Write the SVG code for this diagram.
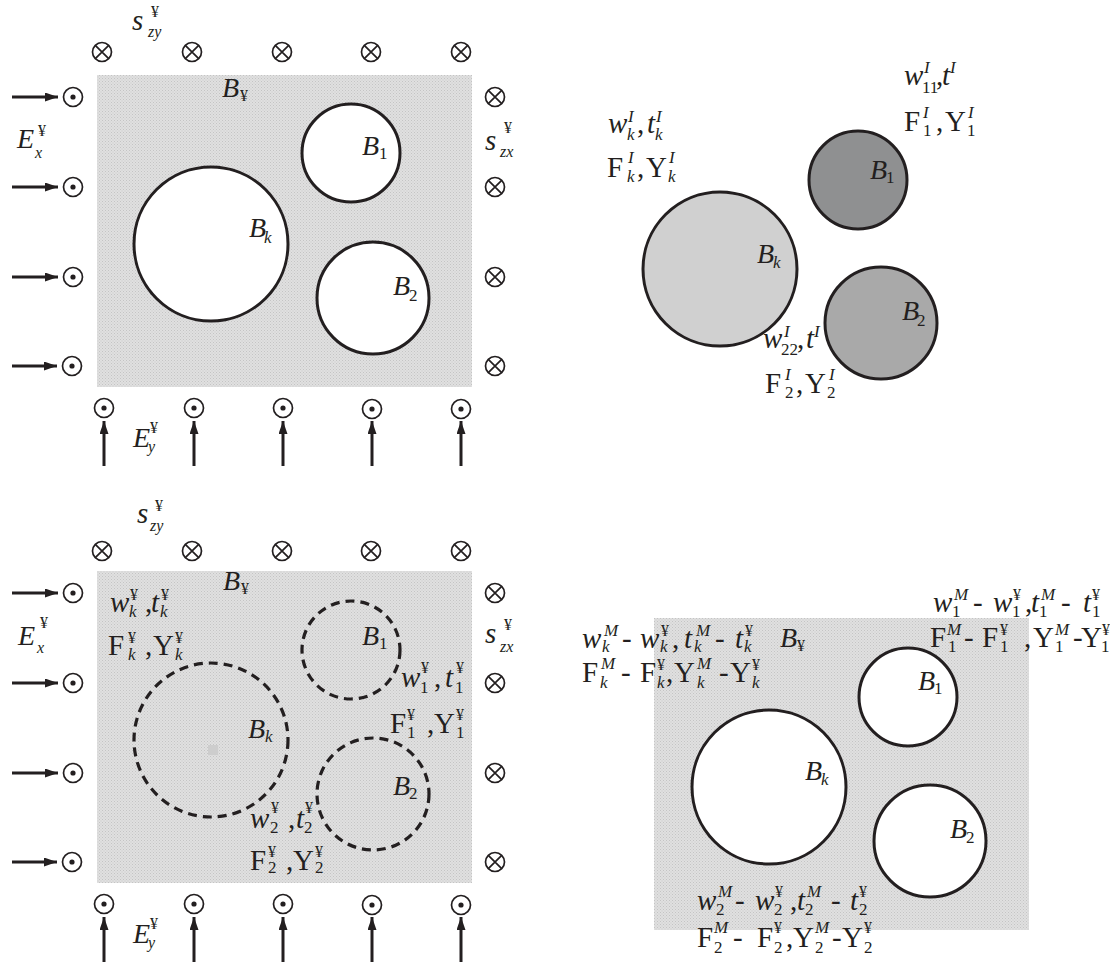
<svg xmlns="http://www.w3.org/2000/svg" width="1110" height="962" viewBox="0 0 1110 962">
<style>
text{font-family:"Liberation Serif","Times New Roman",serif;fill:#231f20}
.i{font-style:italic}
.b{font-size:29px}
.m{font-size:28px}
.s{font-size:17px}
.y{font-size:16px}
.c{fill:#fff;stroke:#231f20;stroke-width:3}
.d{fill:none;stroke:#231f20;stroke-width:3.2;stroke-dasharray:9 6}
.ar{stroke:#231f20;stroke-width:3;fill:none}
</style>
<defs>
<pattern id="dots" width="3" height="3" patternUnits="userSpaceOnUse">
<rect width="3" height="3" fill="#e0e0e0"/>
<rect x="0" y="0" width="1" height="1" fill="#c4c4c4"/>
<rect x="1.5" y="1.5" width="1" height="1" fill="#cacaca"/>
</pattern>
<marker id="ah" viewBox="0 0 13 9" refX="13" refY="4.5" markerWidth="13" markerHeight="9" markerUnits="userSpaceOnUse" orient="auto">
<path d="M0,0 L13,4.5 L0,9 Z" fill="#231f20"/>
</marker>
<g id="dot"><circle r="9.5" fill="none" stroke="#231f20" stroke-width="1.7"/><circle r="2.6" fill="#231f20"/></g>
<g id="crs"><circle r="9.5" fill="none" stroke="#231f20" stroke-width="1.7"/><path d="M-6.7,-6.7 L6.7,6.7 M-6.7,6.7 L6.7,-6.7" stroke="#231f20" stroke-width="1.7"/></g>
</defs>

<!-- ===== Top-left panel ===== -->
<g id="tl-matrix"><rect x="97" y="75" width="375" height="312" fill="url(#dots)"/></g>
<g id="tl-B1"><circle class="c" cx="351" cy="153" r="49"/></g>
<g id="tl-Bk"><circle class="c" cx="211" cy="244" r="77"/></g>
<g id="tl-B2"><circle class="c" cx="373" cy="298" r="56"/></g>
<g id="tl-symbols">
<use href="#crs" x="102" y="52"/><use href="#crs" x="192" y="52"/><use href="#crs" x="282" y="52"/><use href="#crs" x="371" y="52"/><use href="#crs" x="461" y="52"/>
<use href="#crs" x="495" y="97"/><use href="#crs" x="495" y="187"/><use href="#crs" x="495" y="277"/><use href="#crs" x="495" y="366"/>
<use href="#dot" x="73" y="97"/><use href="#dot" x="73" y="187"/><use href="#dot" x="73" y="277"/><use href="#dot" x="72" y="366"/>
<use href="#dot" x="104" y="408"/><use href="#dot" x="194" y="408"/><use href="#dot" x="283" y="408"/><use href="#dot" x="372" y="409"/><use href="#dot" x="461" y="409"/>
</g>
<g id="tl-labels">
<text><tspan class="i b" x="132" y="30">s</tspan><tspan class="y" x="151" y="17">¥</tspan><tspan class="i y" x="148" y="37">zy</tspan></text>
<text><tspan class="i m" x="222" y="97">B</tspan><tspan class="y" x="240" y="101">¥</tspan></text>
<text><tspan class="i m" x="17" y="148">E</tspan><tspan class="y" x="38" y="136">¥</tspan><tspan class="i y" x="35" y="158">x</tspan></text>
<text><tspan class="i b" x="485" y="150">s</tspan><tspan class="y" x="504" y="133">¥</tspan><tspan class="i y" x="500" y="157">zx</tspan></text>
<text><tspan class="i m" x="362" y="155">B</tspan><tspan class="s" x="379" y="159">1</tspan></text>
<text><tspan class="i m" x="249" y="237">B</tspan><tspan class="i s" x="264" y="243">k</tspan></text>
<text><tspan class="i m" x="393" y="295">B</tspan><tspan class="s" x="409" y="301">2</tspan></text>
<text><tspan class="i m" x="133" y="447">E</tspan><tspan class="y" x="150" y="433">¥</tspan><tspan class="i y" x="148" y="452">y</tspan></text>
</g>

<!-- ===== Top-right panel ===== -->
<g id="tr-Bk"><circle cx="720" cy="269" r="77" fill="#d0d0d0" stroke="#231f20" stroke-width="3"/></g>
<g id="tr-B1"><circle cx="858" cy="180" r="49" fill="#8f9091" stroke="#231f20" stroke-width="3"/></g>
<g id="tr-B2"><circle cx="881" cy="323" r="56" fill="#a9a9a9" stroke="#231f20" stroke-width="3"/></g>
<g id="tr-labels">
<text><tspan class="i b" x="608" y="133">w</tspan><tspan class="i s" x="628" y="122">I</tspan><tspan class="i s" x="627" y="140">k</tspan><tspan class="b" x="637" y="133">,</tspan><tspan class="i b" x="647" y="133">t</tspan><tspan class="i s" x="656" y="122">I</tspan><tspan class="i s" x="655" y="140">k</tspan></text>
<text><tspan class="b" x="607" y="177">F</tspan><tspan class="i s" x="628" y="163">I</tspan><tspan class="i s" x="627" y="182">k</tspan><tspan class="b" x="637" y="177">,</tspan><tspan class="b" x="646" y="177">Y</tspan><tspan class="i s" x="669" y="163">I</tspan><tspan class="i s" x="668" y="182">k</tspan></text>
<text><tspan class="i b" x="904" y="85">w</tspan><tspan class="i s" x="924" y="73">I</tspan><tspan class="s" x="922" y="93">11</tspan><tspan class="b" x="936" y="85">,</tspan><tspan class="i b" x="942" y="85">t</tspan><tspan class="i s" x="950" y="73">I</tspan></text>
<text><tspan class="b" x="904" y="131">F</tspan><tspan class="i s" x="923" y="118">I</tspan><tspan class="s" x="923" y="136">1</tspan><tspan class="b" x="936" y="131">,</tspan><tspan class="b" x="945" y="131">Y</tspan><tspan class="i s" x="968" y="118">I</tspan><tspan class="s" x="967" y="136">1</tspan></text>
<text><tspan class="i m" x="870" y="179">B</tspan><tspan class="s" x="886" y="183">1</tspan></text>
<text><tspan class="i m" x="757" y="263">B</tspan><tspan class="i s" x="773" y="268">k</tspan></text>
<text><tspan class="i m" x="902" y="320">B</tspan><tspan class="s" x="917" y="326">2</tspan></text>
<text><tspan class="i b" x="763" y="348">w</tspan><tspan class="i s" x="784" y="337">I</tspan><tspan class="s" x="781" y="355">22</tspan><tspan class="b" x="797" y="348">,</tspan><tspan class="i b" x="806" y="348">t</tspan><tspan class="i s" x="814" y="337">I</tspan></text>
<text><tspan class="b" x="765" y="393">F</tspan><tspan class="i s" x="785" y="380">I</tspan><tspan class="s" x="785" y="398">2</tspan><tspan class="b" x="796" y="393">,</tspan><tspan class="b" x="805" y="393">Y</tspan><tspan class="i s" x="829" y="380">I</tspan><tspan class="s" x="827" y="398">2</tspan></text>
</g>

<!-- ===== Bottom-left panel ===== -->
<g id="bl-matrix"><rect x="97" y="571" width="375" height="312" fill="url(#dots)"/><rect x="208" y="745" width="10" height="10" fill="#cdcdcd"/></g>
<g id="bl-B1"><circle class="d" cx="351" cy="650" r="49"/></g>
<g id="bl-Bk"><circle class="d" cx="211" cy="740" r="77"/></g>
<g id="bl-B2"><circle class="d" cx="373" cy="794" r="56"/></g>
<g id="bl-symbols">
<use href="#crs" x="102" y="551"/><use href="#crs" x="192" y="551"/><use href="#crs" x="282" y="551"/><use href="#crs" x="371" y="551"/><use href="#crs" x="461" y="551"/>
<use href="#crs" x="495" y="593"/><use href="#crs" x="495" y="683"/><use href="#crs" x="495" y="773"/><use href="#crs" x="495" y="862"/>
<use href="#dot" x="73" y="593"/><use href="#dot" x="73" y="683"/><use href="#dot" x="73" y="773"/><use href="#dot" x="72" y="862"/>
<use href="#dot" x="104" y="904"/><use href="#dot" x="194" y="904"/><use href="#dot" x="283" y="904"/><use href="#dot" x="372" y="905"/><use href="#dot" x="461" y="905"/>
</g>
<g id="bl-labels">
<text><tspan class="i b" x="137" y="523">s</tspan><tspan class="y" x="155" y="511">¥</tspan><tspan class="i y" x="150" y="531">zy</tspan></text>
<text><tspan class="i m" x="223" y="590">B</tspan><tspan class="y" x="241" y="594">¥</tspan></text>
<text><tspan class="i b" x="110" y="612">w</tspan><tspan class="y" x="130" y="600">¥</tspan><tspan class="i s" x="129" y="617">k</tspan><tspan class="b" x="145" y="612">,</tspan><tspan class="i b" x="151" y="612">t</tspan><tspan class="y" x="161" y="600">¥</tspan><tspan class="i s" x="160" y="617">k</tspan></text>
<text><tspan class="b" x="108" y="655">F</tspan><tspan class="y" x="128" y="643">¥</tspan><tspan class="i s" x="128" y="660">k</tspan><tspan class="b" x="145" y="655">,</tspan><tspan class="b" x="153" y="655">Y</tspan><tspan class="y" x="175" y="643">¥</tspan><tspan class="i s" x="175" y="660">k</tspan></text>
<text><tspan class="i m" x="18" y="645">E</tspan><tspan class="y" x="40" y="628">¥</tspan><tspan class="i y" x="37" y="653">x</tspan></text>
<text><tspan class="i b" x="485" y="643">s</tspan><tspan class="y" x="504" y="630">¥</tspan><tspan class="i y" x="500" y="652">zx</tspan></text>
<text><tspan class="i m" x="362" y="645">B</tspan><tspan class="s" x="379" y="649">1</tspan></text>
<text><tspan class="i b" x="401" y="687">w</tspan><tspan class="y" x="421" y="673">¥</tspan><tspan class="s" x="420" y="693">1</tspan><tspan class="b" x="434" y="687">,</tspan><tspan class="i b" x="445" y="687">t</tspan><tspan class="y" x="456" y="673">¥</tspan><tspan class="s" x="455" y="693">1</tspan></text>
<text><tspan class="b" x="390" y="733">F</tspan><tspan class="y" x="407" y="720">¥</tspan><tspan class="s" x="407" y="738">1</tspan><tspan class="b" x="427" y="733">,</tspan><tspan class="b" x="434" y="733">Y</tspan><tspan class="y" x="456" y="720">¥</tspan><tspan class="s" x="456" y="738">1</tspan></text>
<text><tspan class="i m" x="248" y="738">B</tspan><tspan class="i s" x="265" y="742">k</tspan></text>
<text><tspan class="i m" x="393" y="795">B</tspan><tspan class="s" x="409" y="799">2</tspan></text>
<text><tspan class="i b" x="250" y="828">w</tspan><tspan class="y" x="271" y="813">¥</tspan><tspan class="s" x="270" y="833">2</tspan><tspan class="b" x="288" y="828">,</tspan><tspan class="i b" x="296" y="828">t</tspan><tspan class="y" x="305" y="813">¥</tspan><tspan class="s" x="304" y="833">2</tspan></text>
<text><tspan class="b" x="250" y="870">F</tspan><tspan class="y" x="268" y="857">¥</tspan><tspan class="s" x="268" y="873">2</tspan><tspan class="b" x="286" y="870">,</tspan><tspan class="b" x="293" y="870">Y</tspan><tspan class="y" x="315" y="857">¥</tspan><tspan class="s" x="315" y="873">2</tspan></text>
<text><tspan class="i m" x="133" y="943">E</tspan><tspan class="y" x="150" y="929">¥</tspan><tspan class="i y" x="148" y="948">y</tspan></text>
</g>

<!-- ===== Bottom-right panel ===== -->
<g id="br-matrix"><rect x="654" y="618" width="375" height="312" fill="url(#dots)"/></g>
<g id="br-B1"><circle class="c" cx="908" cy="697" r="49"/></g>
<g id="br-Bk"><circle class="c" cx="769" cy="787" r="77"/></g>
<g id="br-B2"><circle class="c" cx="930" cy="841" r="56"/></g>
<g id="br-labels">
<text><tspan class="i m" x="918" y="690">B</tspan><tspan class="s" x="934" y="694">1</tspan></text>
<text><tspan class="i m" x="805" y="780">B</tspan><tspan class="i s" x="821" y="785">k</tspan></text>
<text><tspan class="i m" x="950" y="838">B</tspan><tspan class="s" x="966" y="843">2</tspan></text>
<text><tspan class="i m" x="780" y="647">B</tspan><tspan class="y" x="797" y="651">¥</tspan></text>
<text><tspan class="i b" x="582" y="648">w</tspan><tspan class="i s" x="604" y="636">M</tspan><tspan class="i s" x="602" y="652">k</tspan><tspan class="b" x="622" y="648">-</tspan><tspan class="i b" x="640" y="648">w</tspan><tspan class="y" x="661" y="636">¥</tspan><tspan class="i s" x="660" y="652">k</tspan><tspan class="b" x="672" y="648">,</tspan><tspan class="i b" x="684" y="648">t</tspan><tspan class="i s" x="696" y="636">M</tspan><tspan class="i s" x="694" y="652">k</tspan><tspan class="b" x="715" y="648">-</tspan><tspan class="i b" x="735" y="648">t</tspan><tspan class="y" x="745" y="636">¥</tspan><tspan class="i s" x="744" y="652">k</tspan></text>
<text><tspan class="b" x="582" y="682">F</tspan><tspan class="i s" x="601" y="669">M</tspan><tspan class="i s" x="600" y="688">k</tspan><tspan class="b" x="621" y="682">-</tspan><tspan class="b" x="640" y="682">F</tspan><tspan class="y" x="657" y="670">¥</tspan><tspan class="i s" x="657" y="688">k</tspan><tspan class="b" x="666" y="682">,</tspan><tspan class="b" x="674" y="682">Y</tspan><tspan class="i s" x="697" y="669">M</tspan><tspan class="i s" x="697" y="688">k</tspan><tspan class="b" x="719" y="682">-</tspan><tspan class="b" x="730" y="682">Y</tspan><tspan class="y" x="752" y="670">¥</tspan><tspan class="i s" x="752" y="688">k</tspan></text>
<text><tspan class="i b" x="933" y="612">w</tspan><tspan class="i s" x="954" y="600">M</tspan><tspan class="s" x="952" y="617">1</tspan><tspan class="b" x="973" y="612">-</tspan><tspan class="i b" x="993" y="612">w</tspan><tspan class="y" x="1013" y="600">¥</tspan><tspan class="s" x="1012" y="617">1</tspan><tspan class="b" x="1025" y="612">,</tspan><tspan class="i b" x="1031" y="612">t</tspan><tspan class="i s" x="1041" y="600">M</tspan><tspan class="s" x="1039" y="617">1</tspan><tspan class="b" x="1061" y="612">-</tspan><tspan class="i b" x="1083" y="612">t</tspan><tspan class="y" x="1092" y="600">¥</tspan><tspan class="s" x="1092" y="617">1</tspan></text>
<text><tspan class="b" x="930" y="647">F</tspan><tspan class="i s" x="947" y="635">M</tspan><tspan class="s" x="948" y="652">1</tspan><tspan class="b" x="964" y="647">-</tspan><tspan class="b" x="982" y="647">F</tspan><tspan class="y" x="1000" y="635">¥</tspan><tspan class="s" x="1000" y="652">1</tspan><tspan class="b" x="1024" y="647">,</tspan><tspan class="b" x="1033" y="647">Y</tspan><tspan class="i s" x="1055" y="635">M</tspan><tspan class="s" x="1055" y="652">1</tspan><tspan class="b" x="1073" y="647">-</tspan><tspan class="b" x="1081" y="647">Y</tspan><tspan class="y" x="1102" y="635">¥</tspan><tspan class="s" x="1101" y="652">1</tspan></text>
<text><tspan class="i b" x="697" y="910">w</tspan><tspan class="i s" x="718" y="897">M</tspan><tspan class="s" x="716" y="915">2</tspan><tspan class="b" x="735" y="910">-</tspan><tspan class="i b" x="755" y="910">w</tspan><tspan class="y" x="775" y="897">¥</tspan><tspan class="s" x="774" y="915">2</tspan><tspan class="b" x="790" y="910">,</tspan><tspan class="i b" x="797" y="910">t</tspan><tspan class="i s" x="807" y="897">M</tspan><tspan class="s" x="805" y="915">2</tspan><tspan class="b" x="831" y="910">-</tspan><tspan class="i b" x="850" y="910">t</tspan><tspan class="y" x="859" y="897">¥</tspan><tspan class="s" x="859" y="915">2</tspan></text>
<text><tspan class="b" x="697" y="947">F</tspan><tspan class="i s" x="714" y="933">M</tspan><tspan class="s" x="714" y="953">2</tspan><tspan class="b" x="733" y="947">-</tspan><tspan class="b" x="757" y="947">F</tspan><tspan class="y" x="774" y="933">¥</tspan><tspan class="s" x="774" y="953">2</tspan><tspan class="b" x="786" y="947">,</tspan><tspan class="b" x="793" y="947">Y</tspan><tspan class="i s" x="815" y="933">M</tspan><tspan class="s" x="815" y="953">2</tspan><tspan class="b" x="832" y="947">-</tspan><tspan class="b" x="842" y="947">Y</tspan><tspan class="y" x="864" y="933">¥</tspan><tspan class="s" x="864" y="953">2</tspan></text>
</g>

<!-- ===== Connectors (field arrows) ===== -->
<g id="connectors">
<line class="ar" x1="12" y1="97" x2="58" y2="97" marker-end="url(#ah)"/>
<line class="ar" x1="12" y1="187" x2="58" y2="187" marker-end="url(#ah)"/>
<line class="ar" x1="12" y1="277" x2="58" y2="277" marker-end="url(#ah)"/>
<line class="ar" x1="12" y1="366" x2="57" y2="366" marker-end="url(#ah)"/>
<line class="ar" x1="104" y1="466" x2="104" y2="421" marker-end="url(#ah)"/>
<line class="ar" x1="194" y1="466" x2="194" y2="421" marker-end="url(#ah)"/>
<line class="ar" x1="283" y1="466" x2="283" y2="421" marker-end="url(#ah)"/>
<line class="ar" x1="372" y1="466" x2="372" y2="421" marker-end="url(#ah)"/>
<line class="ar" x1="461" y1="466" x2="461" y2="421" marker-end="url(#ah)"/>
<line class="ar" x1="12" y1="593" x2="58" y2="593" marker-end="url(#ah)"/>
<line class="ar" x1="12" y1="683" x2="58" y2="683" marker-end="url(#ah)"/>
<line class="ar" x1="12" y1="773" x2="58" y2="773" marker-end="url(#ah)"/>
<line class="ar" x1="12" y1="862" x2="57" y2="862" marker-end="url(#ah)"/>
<line class="ar" x1="104" y1="962" x2="104" y2="917" marker-end="url(#ah)"/>
<line class="ar" x1="194" y1="962" x2="194" y2="917" marker-end="url(#ah)"/>
<line class="ar" x1="283" y1="962" x2="283" y2="917" marker-end="url(#ah)"/>
<line class="ar" x1="372" y1="962" x2="372" y2="917" marker-end="url(#ah)"/>
<line class="ar" x1="461" y1="962" x2="461" y2="917" marker-end="url(#ah)"/>
</g>
</svg>
